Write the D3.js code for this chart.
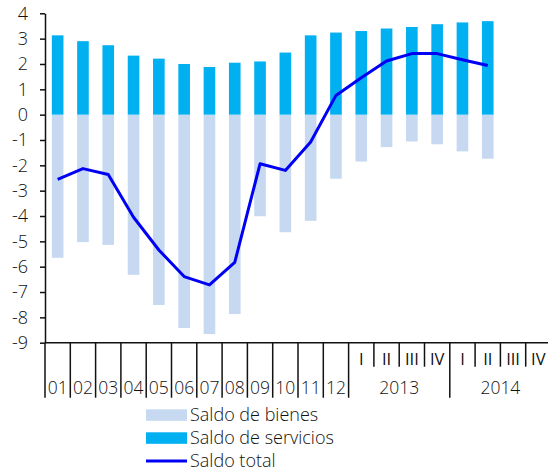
<!DOCTYPE html>
<html>
<head>
<meta charset="utf-8">
<script src="https://cdn.jsdelivr.net/npm/d3@7"></script>
<style>
  html, body { margin: 0; padding: 0; background: #fff; }
  svg { display: block; }
  text { font-family: "Open Sans", Lato, sans-serif; font-weight: 300; fill: #111; }
</style>
</head>
<body>
<svg id="chart" width="548" height="471"></svg>
<script>
// ---------------------------------------------------------------------------
// Data
// ---------------------------------------------------------------------------
const periods  = ['01','02','03','04','05','06','07','08','09','10','11','12',
                  '2013 I','2013 II','2013 III','2013 IV',
                  '2014 I','2014 II','2014 III','2014 IV'];
const slotLabels = ['01','02','03','04','05','06','07','08','09','10','11','12',
                    'I','II','III','IV','I','II','III','IV'];
const years    = ['2013', '2014'];

const bienes    = [-5.65, -5.03, -5.14, -6.32, -7.51, -8.42, -8.66, -7.87, -4.01, -4.64,
                   -4.19, -2.53, -1.85, -1.28, -1.06, -1.17, -1.45, -1.74, null, null];
const servicios = [3.13, 2.90, 2.74, 2.33, 2.21, 2.00, 1.88, 2.05, 2.10, 2.45,
                   3.13, 3.24, 3.30, 3.40, 3.46, 3.57, 3.64, 3.69, null, null];
const total     = [-2.55, -2.13, -2.36, -4.05, -5.34, -6.39, -6.72, -5.83, -1.94, -2.20,
                   -1.08, 0.76, 1.46, 2.12, 2.41, 2.41, 2.17, 1.94, null, null];

const yTicks = d3.range(-9, 5);
const legendItems = ['Saldo de bienes', 'Saldo de servicios', 'Saldo total'];

// ---------------------------------------------------------------------------
// Layout
// ---------------------------------------------------------------------------
const COL_BIENES = '#c6d9f1';
const COL_SERV   = '#00b0f0';
const COL_TOTAL  = '#0000f5';

const plotL = 45, plotR = 551, plotT = 13.3, plotB = 342.7;

const svg = d3.select('#chart');

const y = d3.scaleLinear().domain([-9, 4]).range([plotB, plotT]);
const slot = d3.scaleBand().domain(periods).range([plotL, plotR]);
const x = d3.scaleBand().domain(periods).range([plotL, plotR])
  .paddingInner(0.54).paddingOuter(0.27);

// bars
const rows = periods.map((p, i) => ({ p, b: bienes[i], s: servicios[i], t: total[i] }));

svg.append('g').selectAll('rect')
  .data(rows.filter(d => d.b != null))
  .join('rect')
  .attr('x', d => x(d.p)).attr('width', x.bandwidth())
  .attr('y', y(0)).attr('height', d => y(d.b) - y(0))
  .attr('fill', COL_BIENES);

svg.append('g').selectAll('rect')
  .data(rows.filter(d => d.s != null))
  .join('rect')
  .attr('x', d => x(d.p)).attr('width', x.bandwidth())
  .attr('y', d => y(d.s)).attr('height', d => y(0) - y(d.s))
  .attr('fill', COL_SERV);

// total line
const line = d3.line()
  .defined(d => d.t != null)
  .x(d => x(d.p) + x.bandwidth() / 2)
  .y(d => y(d.t));

svg.append('path')
  .datum(rows)
  .attr('d', line)
  .attr('fill', 'none')
  .attr('stroke', COL_TOTAL)
  .attr('stroke-width', 3)
  .attr('stroke-linejoin', 'round');

// y axis
const yAx = svg.append('g')
  .attr('transform', `translate(${plotL},0)`)
  .call(d3.axisLeft(y).tickValues(yTicks).tickFormat(d => String(d))
    .tickSize(5).tickPadding(12).tickSizeOuter(0));
yAx.select('.domain').attr('stroke', '#111').attr('stroke-width', 1.5);
yAx.selectAll('.tick line').attr('stroke', '#111').attr('stroke-width', 1.5);
yAx.selectAll('.tick text')
  .style('font-size', '18px').style('font-family', '"Open Sans", Lato, sans-serif')
  .style('font-weight', 300)
  .attr('fill', '#111');

// x axis line
svg.append('line')
  .attr('x1', plotL).attr('x2', plotR)
  .attr('y1', y(-9)).attr('y2', y(-9))
  .attr('stroke', '#111').attr('stroke-width', 1.5);

// x separators: long at month / year boundaries, short between quarters
const bounds = periods.map((p, i) => ({ i, xpos: slot(p) }));
const longTick = i => i <= 12 || i === 16;
svg.append('g').selectAll('line')
  .data(bounds)
  .join('line')
  .attr('x1', d => d.xpos).attr('x2', d => d.xpos)
  .attr('y1', y(-9))
  .attr('y2', d => y(-9) + (longTick(d.i) ? 55 : 24))
  .attr('stroke', '#111').attr('stroke-width', 1.5);

// slot labels (roman numerals a touch heavier so thin stems render cleanly)
svg.append('g').selectAll('text')
  .data(periods)
  .join('text')
  .attr('x', p => slot(p) + slot.bandwidth() / 2)
  .attr('y', (p, i) => i < 12 ? 388 : 359)
  .attr('dy', '0.36em')
  .attr('text-anchor', 'middle')
  .style('font-size', (p, i) => i < 12 ? '17.5px' : '16.5px')
  .style('font-weight', (p, i) => i < 12 ? 300 : 400)
  .text((p, i) => slotLabels[i]);

// year labels, centred over their four quarters
svg.append('g').selectAll('text')
  .data(years)
  .join('text')
  .attr('x', yr => {
    const q1 = slot(yr + ' I'), q4 = slot(yr + ' IV') + slot.bandwidth();
    return (q1 + q4) / 2;
  })
  .attr('y', 388).attr('dy', '0.36em')
  .attr('text-anchor', 'middle')
  .style('font-size', '17.5px')
  .text(d => d);

// legend
const lg = svg.append('g').attr('transform', 'translate(146,415)');
legendItems.forEach((name, i) => {
  const g = lg.append('g').attr('transform', `translate(0,${i * 23})`);
  if (i < 2) {
    g.append('rect').attr('x', 0).attr('y', -5.7).attr('width', 41).attr('height', 11.5)
      .attr('fill', i === 0 ? COL_BIENES : COL_SERV);
  } else {
    g.append('line').attr('x1', 0).attr('x2', 41).attr('y1', 0).attr('y2', 0)
      .attr('stroke', COL_TOTAL).attr('stroke-width', 3);
  }
  g.append('text').attr('x', 44).attr('y', 0).attr('dy', '0.36em')
    .style('font-size', '18px').text(name);
});
</script>
</body>
</html>
